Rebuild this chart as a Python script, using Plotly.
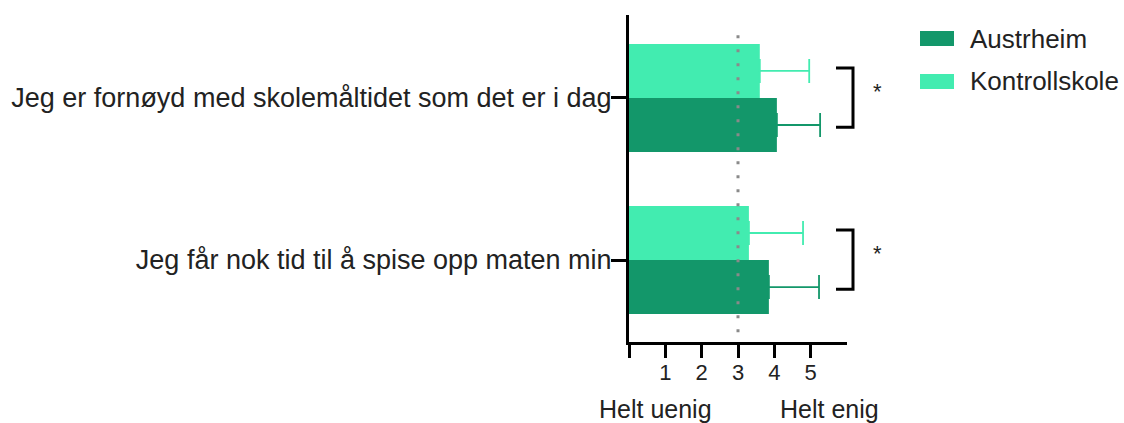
import plotly.graph_objects as go

# ---- data ----
categories = ["Jeg er fornøyd med skolemåltidet som det er i dag",
              "Jeg får nok tid til å spise opp maten min"]
austrheim_mean = [4.07, 3.85]
austrheim_err = [1.19, 1.38]
kontroll_mean = [3.60, 3.30]
kontroll_err = [1.36, 1.49]
series_names = ["Austrheim", "Kontrollskole"]
x_tickvals = [0, 1, 2, 3, 4, 5]
x_ticktext = ["", "1", "2", "3", "4", "5"]
neutral_value = 3
scale_labels = ["Helt uenig", "Helt enig"]
significance = ["*", "*"]

# ---- style ----
col_a = "#13976a"
col_k = "#42ecb0"
FONT = "Liberation Sans, Arial, sans-serif"
W, H = 1124, 423
ML, MR, MT, MB = 629, 277, 15, 81

fig = go.Figure()
fig.add_trace(go.Bar(
    y=categories, x=austrheim_mean, orientation="h", name=series_names[0],
    marker=dict(color=col_a, line=dict(width=0)),
    error_x=dict(type="data", array=austrheim_err, arrayminus=[0] * len(austrheim_err),
                 symmetric=False, color=col_a, thickness=1.8, width=12),
    showlegend=False))
fig.add_trace(go.Bar(
    y=categories, x=kontroll_mean, orientation="h", name=series_names[1],
    marker=dict(color=col_k, line=dict(width=0)),
    error_x=dict(type="data", array=kontroll_err, arrayminus=[0] * len(kontroll_err),
                 symmetric=False, color=col_k, thickness=1.8, width=12),
    showlegend=False))

shapes = []
annotations = []

# neutral dotted line
shapes.append(dict(type="line", xref="x", yref="paper", x0=neutral_value, x1=neutral_value,
                   y0=0.03, y1=0.97, line=dict(color="#8a8a8a", width=3, dash="3px,11px"),
                   layer="above"))

pw = W - ML - MR
ph = H - MT - MB
def px2paper_x(p):
    return (p - ML) / pw
def px2paper_y(p):
    return (H - MB - p) / ph

# significance brackets (non-reversed axis: bottom category first)
cat_order = list(reversed(categories))
for cat, star in zip(categories, significance):
    yc = cat_order.index(cat)
    x0, x1 = px2paper_x(836), px2paper_x(853)
    shapes.append(dict(type="path", xref="paper", yref="y",
                       path=f"M{x0},{yc + 0.185} L{x1},{yc + 0.185} L{x1},{yc - 0.18} L{x0},{yc - 0.18}",
                       line=dict(color="black", width=3)))
    annotations.append(dict(xref="paper", yref="y", x=px2paper_x(877), y=yc + 0.04, text=star,
                            showarrow=False, font=dict(size=22, color="#222", family=FONT),
                            xanchor="center", yanchor="middle"))

# scale labels
for lab, xc in zip(scale_labels, [655, 829]):
    annotations.append(dict(xref="paper", yref="paper", x=px2paper_x(xc), y=px2paper_y(409),
                            text=lab, showarrow=False,
                            font=dict(size=25, color="#222", family=FONT),
                            xanchor="center", yanchor="middle"))

# manual legend
for name, col, ytop in zip(series_names, [col_a, col_k], [31, 74]):
    shapes.append(dict(type="rect", xref="paper", yref="paper",
                       x0=px2paper_x(920), x1=px2paper_x(954),
                       y0=px2paper_y(ytop), y1=px2paper_y(ytop + 15),
                       fillcolor=col, line=dict(width=0)))
    annotations.append(dict(xref="paper", yref="paper", x=px2paper_x(968), y=px2paper_y(ytop + 7.5),
                            text=name, showarrow=False, xanchor="left", yanchor="middle",
                            font=dict(size=26, color="#222", family=FONT)))

fig.update_layout(
    width=W, height=H,
    margin=dict(l=ML, r=MR, t=MT, b=MB, pad=0, autoexpand=False),
    paper_bgcolor="white", plot_bgcolor="white",
    barmode="group", bargap=0.333, bargroupgap=0,
    font=dict(family=FONT, color="#222"),
    shapes=shapes, annotations=annotations,
    showlegend=False,
    xaxis=dict(range=[0, 6], tickvals=x_tickvals, ticktext=x_ticktext, automargin=False,
               showgrid=False, zeroline=False, showline=True, linecolor="black", linewidth=3,
               ticks="outside", ticklen=13, tickwidth=3, tickcolor="black",
               ticklabelstandoff=-4,
               tickfont=dict(size=22, color="#222", family=FONT)),
    yaxis=dict(categoryorder="array", categoryarray=cat_order, range=[-0.506, 1.512],
               automargin=False,
               showgrid=False, zeroline=False, showline=True, linecolor="black", linewidth=3,
               ticks="outside", ticklen=15, tickwidth=3, tickcolor="black",
               ticklabelstandoff=-6,
               tickfont=dict(size=27, color="#222", family=FONT)),
)

fig.write_html("out.html", config={"displayModeBar": False},
               post_script="document.body.style.margin='0';document.body.style.overflow='hidden';")
